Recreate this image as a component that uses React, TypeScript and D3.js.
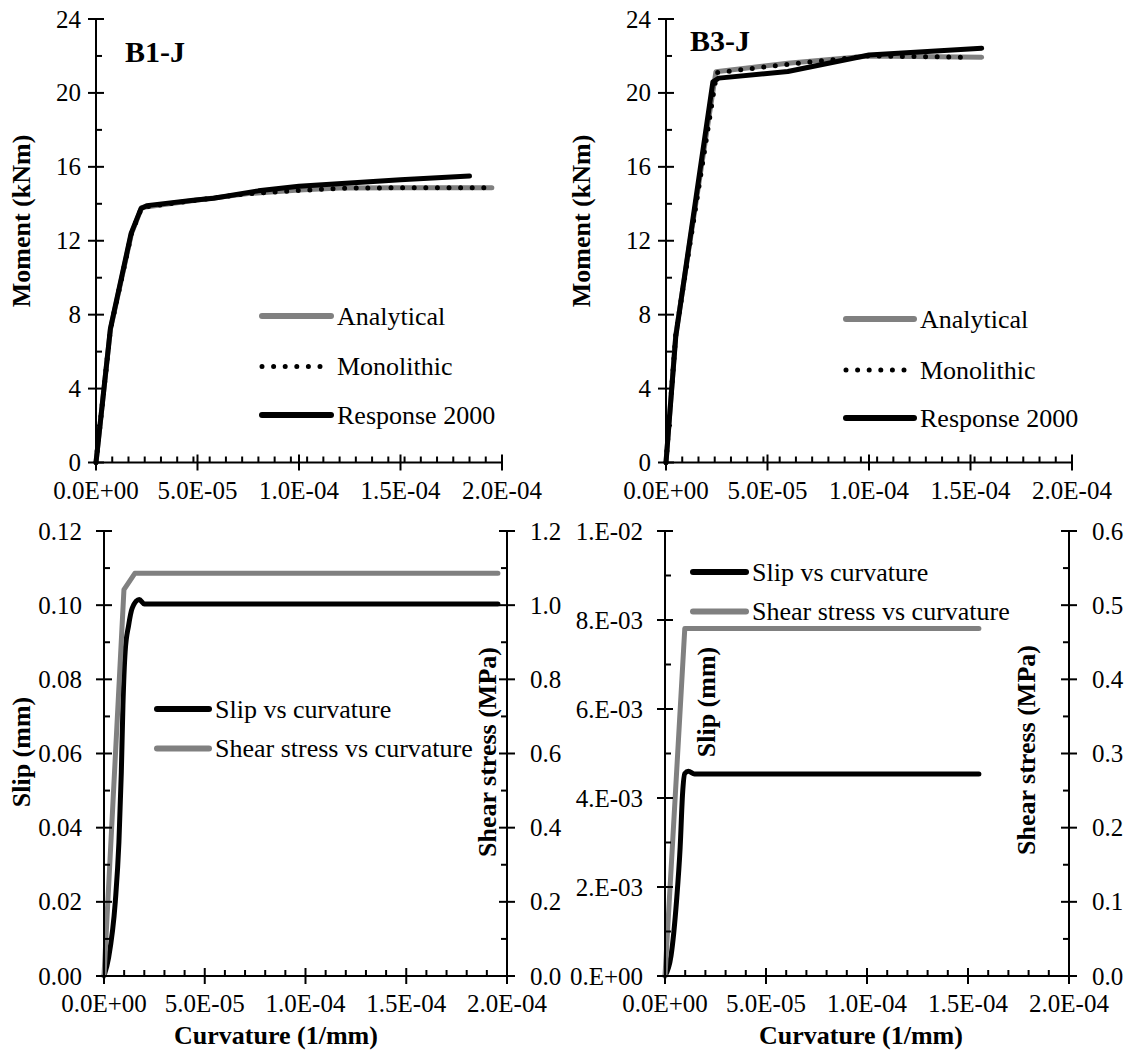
import React from "react";
import * as d3 from "d3";

// ---------------- data ----------------
const curvatureTicks = [0, 5e-5, 1e-4, 1.5e-4, 2e-4];
const curvatureTickLabels = ["0.0E+00", "5.0E-05", "1.0E-04", "1.5E-04", "2.0E-04"];

const momentTicks = [0, 4, 8, 12, 16, 20, 24];
const momentTickLabels = ["0", "4", "8", "12", "16", "20", "24"];

const slipB1Ticks = [0, 0.02, 0.04, 0.06, 0.08, 0.1, 0.12];
const slipB1TickLabels = ["0.00", "0.02", "0.04", "0.06", "0.08", "0.10", "0.12"];
const shearB1Ticks = [0, 0.2, 0.4, 0.6, 0.8, 1.0, 1.2];
const shearB1TickLabels = ["0.0", "0.2", "0.4", "0.6", "0.8", "1.0", "1.2"];

const slipB3Ticks = [0, 0.002, 0.004, 0.006, 0.008, 0.01];
const slipB3TickLabels = ["0.E+00", "2.E-03", "4.E-03", "6.E-03", "8.E-03", "1.E-02"];
const shearB3Ticks = [0, 0.1, 0.2, 0.3, 0.4, 0.5, 0.6];
const shearB3TickLabels = ["0.0", "0.1", "0.2", "0.3", "0.4", "0.5", "0.6"];

const momentLegend = ["Analytical", "Monolithic", "Response 2000"];
const slipLegend = ["Slip vs curvature", "Shear stress vs curvature"];
const panelTitles = ["B1-J", "B3-J"];
const momentAxisTitle = "Moment (kNm)";
const slipAxisTitle = "Slip (mm)";
const shearAxisTitle = "Shear stress (MPa)";
const curvatureAxisTitle = "Curvature (1/mm)";

// [curvature (1/mm), moment (kNm)]
const b1Analytical: [number, number][] = [
  [0, 0], [7.1e-6, 7.2], [1.75e-5, 12.4], [2.25e-5, 13.8], [5.0e-5, 14.2],
  [7.5e-5, 14.55], [1.0e-4, 14.75], [1.2e-4, 14.85], [1.5e-4, 14.87], [1.95e-4, 14.87],
];
const b1Monolithic: [number, number][] = [
  [0, 0], [7.1e-6, 7.2], [1.75e-5, 12.4], [2.25e-5, 13.8], [5.0e-5, 14.2],
  [7.5e-5, 14.55], [1.0e-4, 14.72], [1.2e-4, 14.84], [1.5e-4, 14.87], [1.95e-4, 14.87],
];
const b1Response: [number, number][] = [
  [0, 0], [7.1e-6, 7.25], [1.73e-5, 12.4], [2.22e-5, 13.75], [2.5e-5, 13.9],
  [4.9e-5, 14.2], [5.8e-5, 14.3], [8.0e-5, 14.7], [1.0e-4, 14.95], [1.5e-4, 15.3], [1.84e-4, 15.5],
];

const b3Analytical: [number, number][] = [
  [0, 0], [4.8e-6, 6.9], [2.46e-5, 21.15], [6.0e-5, 21.6], [1.0e-4, 22.0], [1.555e-4, 21.93],
];
const b3Monolithic: [number, number][] = [
  [0, 0], [4.8e-6, 6.9], [2.5e-5, 21.1], [6.0e-5, 21.55], [1.0e-4, 22.0], [1.49e-4, 21.93],
];
const b3Response: [number, number][] = [
  [0, 0], [4.8e-6, 6.8], [2.31e-5, 20.6], [2.6e-5, 20.8], [6.0e-5, 21.16], [1.0e-4, 22.05], [1.555e-4, 22.42],
];

// [curvature, slip (mm)]
const b1Slip: [number, number][] = [
  [0, 0], [2.3e-6, 0.005], [5.6e-6, 0.02], [7.4e-6, 0.036], [8.6e-6, 0.055], [9.4e-6, 0.073],
  [1.05e-5, 0.0875], [1.22e-5, 0.0945], [1.4e-5, 0.0992], [1.75e-5, 0.1015], [2.0e-5, 0.1003],
  [1.955e-4, 0.1003],
];
// [curvature, shear stress (MPa)]
const b1Shear: [number, number][] = [
  [0, 0], [9.9e-6, 1.042], [1.53e-5, 1.086], [1.955e-4, 1.086],
];

const b3Slip: [number, number][] = [
  [0, 0], [3.0e-6, 0.00046], [5.7e-6, 0.00168], [7.5e-6, 0.00289], [8.7e-6, 0.0041],
  [9.8e-6, 0.00455], [1.16e-5, 0.0046], [1.46e-5, 0.00454], [1.554e-4, 0.00454],
];
const b3Shear: [number, number][] = [
  [0, 0], [9.8e-6, 0.4687], [1.554e-4, 0.4687],
];

// ---------------- style ----------------
const FONT = "'Liberation Serif','Times New Roman',Times,serif";
const GRAY = "#808080";
const TICK_FS = 25;
const TITLE_FS = 26;

type Scale = d3.ScaleLinear<number, number>;

function minorValues(step: number, max: number, majorStep: number) {
  const n = Math.round(max / step);
  return d3.range(1, n + 1)
    .map((i) => i * step)
    .filter((v) => Math.abs(v / majorStep - Math.round(v / majorStep)) > 1e-6);
}

function XAxis({ scale, y, ticks, labels, minors }: { scale: Scale; y: number; ticks: number[]; labels: string[]; minors: number[] }) {
  const [a, b] = scale.range();
  return (
    <g>
      <line x1={a} x2={b} y1={y} y2={y} stroke="#000" strokeWidth={2} />
      {minors.map((v, i) => (
        <line key={"m" + i} x1={scale(v)} x2={scale(v)} y1={y} y2={y - 6} stroke="#000" strokeWidth={2} />
      ))}
      {ticks.map((v, i) => (
        <line key={"t" + i} x1={scale(v)} x2={scale(v)} y1={y - 8} y2={y + 8} stroke="#000" strokeWidth={2} />
      ))}
      {ticks.map((v, i) => (
        <text key={"l" + i} x={scale(v)} y={y + 36} textAnchor="middle" fontSize={TICK_FS} fontFamily={FONT} fill="#000">
          {labels[i]}
        </text>
      ))}
    </g>
  );
}

function YAxis({ scale, x, ticks, labels, minors, side, gap }: { scale: Scale; x: number; ticks: number[]; labels: string[]; minors: number[]; side: "left" | "right"; gap: number }) {
  const [a, b] = scale.range();
  const inside = side === "left" ? 1 : -1;
  return (
    <g>
      <line x1={x} x2={x} y1={a} y2={b} stroke="#000" strokeWidth={2} />
      {minors.map((v, i) => (
        <line key={"m" + i} x1={x} x2={x + inside * 6} y1={scale(v)} y2={scale(v)} stroke="#000" strokeWidth={2} />
      ))}
      {ticks.map((v, i) => (
        <line key={"t" + i} x1={x - 8} x2={x + 8} y1={scale(v)} y2={scale(v)} stroke="#000" strokeWidth={2} />
      ))}
      {ticks.map((v, i) => (
        <text
          key={"l" + i}
          x={side === "left" ? x - gap : x + gap}
          y={scale(v)}
          dy="0.34em"
          textAnchor={side === "left" ? "end" : "start"}
          fontSize={TICK_FS}
          fontFamily={FONT}
          fill="#000"
        >
          {labels[i]}
        </text>
      ))}
    </g>
  );
}

function VTitle({ x, y, text }: { x: number; y: number; text: string }) {
  return (
    <text
      transform={`translate(${x},${y}) rotate(-90)`}
      textAnchor="middle"
      dy="0.35em"
      fontSize={TITLE_FS}
      fontWeight="bold"
      fontFamily={FONT}
      fill="#000"
    >
      {text}
    </text>
  );
}

function LegendItem({ x1, x2, y, text, color, dotted }: { x1: number; x2: number; y: number; text: string; color: string; dotted?: boolean }) {
  return (
    <g>
      <line
        x1={x1} x2={x2} y1={y} y2={y}
        stroke={color}
        strokeWidth={dotted ? 5 : 6}
        strokeLinecap="round"
        strokeDasharray={dotted ? "0 11.6" : undefined}
      />
      <text x={x2 + 6} y={y} dy="0.34em" fontSize={26} fontFamily={FONT} fill="#000">{text}</text>
    </g>
  );
}

function MomentPanel({ box, analytical, monolithic, response, title, titlePos, yTitleX, legendX, legendY }: any) {
  const xs = d3.scaleLinear().domain([0, 2e-4]).range([box.x0, box.x1]);
  const ys = d3.scaleLinear().domain([0, 24]).range([box.yBot, box.yTop]);
  const line = d3.line<[number, number]>().x((d) => xs(d[0])).y((d) => ys(d[1]));
  return (
    <g>
      <path d={line(analytical) || ""} fill="none" stroke={GRAY} strokeWidth={5} strokeLinejoin="round" strokeLinecap="round" />
      <path d={line(monolithic) || ""} fill="none" stroke="#000" strokeWidth={5} strokeLinecap="round" strokeDasharray="0 11.6" />
      <path d={line(response) || ""} fill="none" stroke="#000" strokeWidth={5} strokeLinejoin="round" strokeLinecap="round" />
      <XAxis scale={xs} y={box.yBot} ticks={curvatureTicks} labels={curvatureTickLabels} minors={minorValues(8e-6, 2e-4, 5e-5)} />
      <YAxis scale={ys} x={box.x0} ticks={momentTicks} labels={momentTickLabels} minors={minorValues(2, 24, 4)} side="left" gap={15} />
      <VTitle x={yTitleX} y={221} text={momentAxisTitle} />
      <text x={titlePos[0]} y={titlePos[1]} fontSize={30} fontWeight="bold" fontFamily={FONT} fill="#000">{title}</text>
      <LegendItem x1={legendX[0]} x2={legendX[1]} y={legendY[0]} text={momentLegend[0]} color={GRAY} />
      <LegendItem x1={legendX[0]} x2={legendX[1]} y={legendY[1]} text={momentLegend[1]} color="#000" dotted />
      <LegendItem x1={legendX[0]} x2={legendX[1]} y={legendY[2]} text={momentLegend[2]} color="#000" />
    </g>
  );
}

function SlipPanel({ box, slip, shear, slipMax, shearMax, slipTicks, slipLabels, slipMinor, slipMajor, shearTicks, shearLabels, shearMinor, shearMajor, slipTitle, shearTitle, curvTitleX, legendX, legendY }: any) {
  const xs = d3.scaleLinear().domain([0, 2e-4]).range([box.x0, box.x1]);
  const ysL = d3.scaleLinear().domain([0, slipMax]).range([box.yBot, box.yTop]);
  const ysR = d3.scaleLinear().domain([0, shearMax]).range([box.yBot, box.yTop]);
  const slipLine = d3.line<[number, number]>().x((d) => xs(d[0])).y((d) => ysL(d[1])).curve(d3.curveMonotoneX);
  const shearLine = d3.line<[number, number]>().x((d) => xs(d[0])).y((d) => ysR(d[1]));
  return (
    <g>
      <path d={slipLine(slip) || ""} fill="none" stroke="#000" strokeWidth={5} strokeLinejoin="round" strokeLinecap="round" />
      <path d={shearLine(shear) || ""} fill="none" stroke={GRAY} strokeWidth={5} strokeLinejoin="round" strokeLinecap="round" />
      <XAxis scale={xs} y={box.yBot} ticks={curvatureTicks} labels={curvatureTickLabels} minors={minorValues(1e-5, 2e-4, 5e-5)} />
      <YAxis scale={ysL} x={box.x0} ticks={slipTicks} labels={slipLabels} minors={minorValues(slipMinor, slipMax, slipMajor)} side="left" gap={22} />
      <YAxis scale={ysR} x={box.x1} ticks={shearTicks} labels={shearLabels} minors={minorValues(shearMinor, shearMax, shearMajor)} side="right" gap={23} />
      <VTitle x={slipTitle[0]} y={slipTitle[1]} text={slipAxisTitle} />
      <VTitle x={shearTitle[0]} y={shearTitle[1]} text={shearAxisTitle} />
      <text x={curvTitleX} y={1044} textAnchor="middle" fontSize={TITLE_FS} fontWeight="bold" fontFamily={FONT} fill="#000">{curvatureAxisTitle}</text>
      <LegendItem x1={legendX[0]} x2={legendX[1]} y={legendY[0]} text={slipLegend[0]} color="#000" />
      <LegendItem x1={legendX[0]} x2={legendX[1]} y={legendY[1]} text={slipLegend[1]} color={GRAY} />
    </g>
  );
}

export default function App() {
  const TL = { x0: 96, x1: 502, yTop: 19, yBot: 462.5 };
  const TR = { x0: 666, x1: 1072, yTop: 19, yBot: 462.5 };
  const BL = { x0: 104, x1: 507, yTop: 531, yBot: 976 };
  const BR = { x0: 665, x1: 1069, yTop: 531, yBot: 976 };
  return (
    <div style={{ position: "absolute", left: 0, top: 0 }}>
      <svg width={1142} height={1054} style={{ display: "block", background: "#fff" }}>
        <rect width={1142} height={1054} fill="#fff" />
        <MomentPanel
          box={TL} analytical={b1Analytical} monolithic={b1Monolithic} response={b1Response}
          title={panelTitles[0]} titlePos={[125, 62]} yTitleX={21} legendX={[262, 331]} legendY={[316, 366.5, 415]}
        />
        <MomentPanel
          box={TR} analytical={b3Analytical} monolithic={b3Monolithic} response={b3Response}
          title={panelTitles[1]} titlePos={[690, 51]} yTitleX={581} legendX={[846, 914]} legendY={[319, 370, 418]}
        />
        <SlipPanel
          box={BL} slip={b1Slip} shear={b1Shear} slipMax={0.12} shearMax={1.2}
          slipTicks={slipB1Ticks} slipLabels={slipB1TickLabels} slipMinor={0.01} slipMajor={0.02}
          shearTicks={shearB1Ticks} shearLabels={shearB1TickLabels} shearMinor={0.1} shearMajor={0.2}
          slipTitle={[21, 752]} shearTitle={[487, 752]} curvTitleX={276}
          legendX={[157, 209]} legendY={[709, 748.5]}
        />
        <SlipPanel
          box={BR} slip={b3Slip} shear={b3Shear} slipMax={0.01} shearMax={0.6}
          slipTicks={slipB3Ticks} slipLabels={slipB3TickLabels} slipMinor={0.001} slipMajor={0.002}
          shearTicks={shearB3Ticks} shearLabels={shearB3TickLabels} shearMinor={0.05} shearMajor={0.1}
          slipTitle={[706, 702]} shearTitle={[1026, 750]} curvTitleX={861}
          legendX={[693, 746]} legendY={[572, 611.5]}
        />
      </svg>
    </div>
  );
}
